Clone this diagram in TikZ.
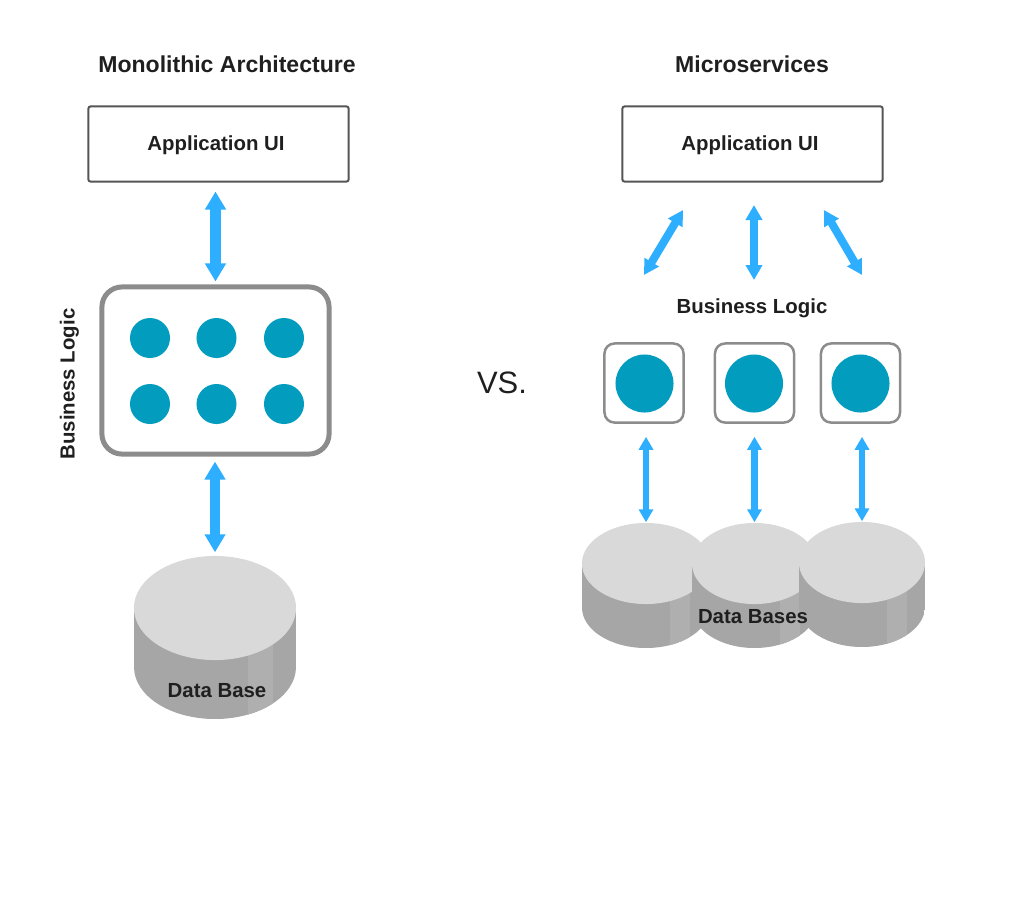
\documentclass[tikz,border=0pt]{standalone}
\usepackage{fontspec}
\setmainfont{Liberation Sans}
\usetikzlibrary{calc,arrows.meta,shapes.geometric}

\definecolor{inkc}{HTML}{1F1F1F}
\definecolor{framec}{HTML}{555555}
\definecolor{logicc}{HTML}{8C8C8C}
\definecolor{dotc}{HTML}{029CBF}
\definecolor{arrowc}{HTML}{2EAEFF}
\definecolor{lidc}{HTML}{D9D9D9}
\definecolor{sidec}{HTML}{A6A6A6}
\definecolor{stripc}{HTML}{AFAFAF}

\tikzset{
  heading/.style={font=\fontsize{6.55pt}{8pt}\selectfont\bfseries, text=inkc, inner sep=0},
  label/.style={font=\fontsize{5.8pt}{7pt}\selectfont\bfseries, text=inkc, inner sep=0},
  uibox/.style={rectangle, draw=framec, line width=0.02cm, rounded corners=0.02cm, fill=white, minimum width=2.6cm, minimum height=0.75cm},
  dot/.style={circle, fill=dotc, inner sep=0, minimum size=0.4cm},
  bigdot/.style={circle, fill=dotc, inner sep=0, minimum size=0.58cm},
  svcbox/.style={rectangle, draw=logicc, line width=0.025cm, rounded corners=0.1cm, minimum width=0.79cm, minimum height=0.79cm},
  linkbig/.style={arrowc, line width=0.1cm, {Triangle[length=0.18cm,width=0.2cm]}-{Triangle[length=0.18cm,width=0.2cm]}},
  linkmid/.style={arrowc, line width=0.08cm, {Triangle[length=0.15cm,width=0.16cm]}-{Triangle[length=0.15cm,width=0.16cm]}},
  linksmall/.style={arrowc, line width=0.065cm, {Triangle[length=0.13cm,width=0.14cm]}-{Triangle[length=0.13cm,width=0.14cm]}},
}

% name, x, y, rx, ry, height, strip from, strip to
\newcommand{\dbdrum}[8]{
  \begin{scope}
    \clip (#2-#4,#3) -- (#2-#4,#3+#6) arc [start angle=180, end angle=0, x radius=#4, y radius=#5] -- (#2+#4,#3) -- cycle;
    \fill [sidec] (#2-#4,#3) rectangle (#2+#4,#3+#6+#5);
    \fill [stripc] (#2+#7,#3) rectangle (#2+#8,#3+#6+#5);
  \end{scope}
  \node (#1) [ellipse, fill=lidc, inner sep=0, minimum width=#4*0.02cm, minimum height=#5*0.02cm] at (#2,#3) {};
}

\begin{document}
\begin{tikzpicture}[x=0.01cm, y=-0.01cm]
\useasboundingbox (0,0) rectangle (1024,908);

% left side
\node (titleL) [heading] at (227,64.5) {Monolithic Architecture};
\node (uiL) [uibox] at (218.5,144) {};
\node (uiLtext) [label] at (216,145) {Application UI};

\node (logicL) [rectangle, draw=logicc, line width=0.05cm, rounded corners=0.2cm, fill=white, minimum width=2.27cm, minimum height=1.67cm] at (215.5,370.5) {};
\node (logicLtext) [label, rotate=90] at (69.5,384) {Business Logic};

\foreach \i/\x in {1/150,2/216.5,3/284} {
  \node (dotA\i) [dot] at (\x,338) {};
  \node (dotB\i) [dot] at (\x,404) {};
}

\dbdrum{dbL}{215}{608}{81}{52}{59}{33}{58}
\node (dbLtext) [label] at (217,691) {Data Base};

\draw [linkbig, shorten <=0.09cm, shorten >=0.03cm] (logicL.north |- uiL.south) -- (logicL.north);
\draw [linkbig, shorten <=0.05cm, shorten >=0.03cm] (logicL.south -| dbL.north) -- (dbL.north);

\node (vs) [inkc, inner sep=0, font=\fontsize{8.8pt}{10pt}\selectfont] at (502,383) {VS.};

% right side
\node (titleR) [heading] at (752,64.5) {Microservices};
\node (uiR) [uibox] at (752.5,144) {};
\node (uiRtext) [label] at (750,145) {Application UI};
\node (logicR) [label] at (752,308) {Business Logic};

\coordinate (armA) at (683,210);
\coordinate (armAend) at (644,275);
\coordinate (armB) at (754,205);
\coordinate (armBend) at (754,280);
\coordinate (armC) at (824,210);
\coordinate (armCend) at (862,275);
\draw [linkmid] (armA) -- (armAend);
\draw [linkmid] (armB) -- (armBend);
\draw [linkmid] (armC) -- (armCend);

\foreach \i/\x/\c in {1/644/644.5,2/754.5/754,3/860.5/860.5} {
  \node (svc\i) [svcbox] at (\x,383) {};
  \node (svcdot\i) [bigdot] at (\c,383.5) {};
}

\dbdrum{db1}{646}{563.5}{64}{40.5}{44}{24}{44}
\dbdrum{db2}{754.5}{563.5}{62.5}{40.5}{44}{25}{45}
\dbdrum{db3}{862}{562.5}{63}{40.5}{44}{25}{45}
\node (dbRtext) [label] at (753,617) {Data Bases};

\draw [linksmall, shorten <=0.13cm] (db1.north |- svc1.south) -- (db1.north);
\draw [linksmall, shorten <=0.13cm] (db2.north |- svc2.south) -- (db2.north);
\draw [linksmall, shorten <=0.13cm] (db3.north |- svc3.south) -- (db3.north);

\end{tikzpicture}
\end{document}
